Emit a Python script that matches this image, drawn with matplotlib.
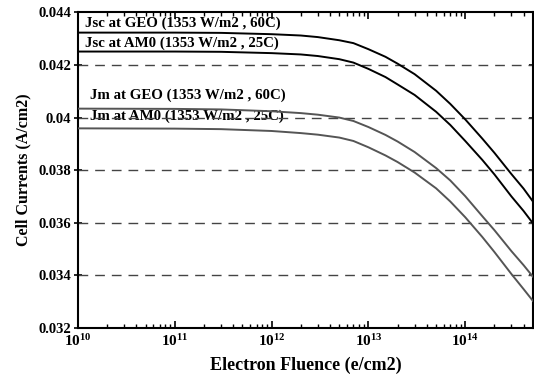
import math
import matplotlib
matplotlib.use("Agg")
import matplotlib.pyplot as plt
from matplotlib.ticker import FixedLocator, LogLocator, NullFormatter, FuncFormatter

plt.rcParams['font.family'] = ['Liberation Serif', 'DejaVu Serif']
plt.rcParams['font.weight'] = 'bold'
plt.rcParams['mathtext.fontset'] = 'custom'
plt.rcParams['mathtext.rm'] = 'Liberation Serif:bold'
plt.rcParams['mathtext.it'] = 'Liberation Serif:bold'
plt.rcParams['mathtext.bf'] = 'Liberation Serif:bold'

# Data
fluence = [1e10, 1e11, 3e11, 1e12, 2e12, 3e12, 5e12, 7e12, 1e13, 1.5e13, 2e13,
           3e13, 5e13, 7e13, 1e14, 1.5e14, 2e14, 3e14, 4e14, 5e14]
jsc_geo = [0.04323, 0.04323, 0.04322, 0.04317, 0.04312, 0.04306, 0.04294, 0.04283,
           0.04260, 0.04231, 0.04205, 0.04165, 0.04102, 0.04052, 0.03993, 0.03920,
           0.03866, 0.03785, 0.03730, 0.03681]
jsc_am0 = [0.04251, 0.04251, 0.04250, 0.04245, 0.04240, 0.04234, 0.04222, 0.04209,
           0.04185, 0.04154, 0.04126, 0.04086, 0.04022, 0.03972, 0.03911, 0.03839,
           0.03784, 0.03700, 0.03645, 0.03598]
jm_geo = [0.04034, 0.04033, 0.04031, 0.04024, 0.04017, 0.04011, 0.04000, 0.03987,
          0.03964, 0.03934, 0.03909, 0.03869, 0.03808, 0.03761, 0.03701, 0.03625,
          0.03572, 0.03492, 0.03439, 0.03395]
jm_am0 = [0.03959, 0.03958, 0.03956, 0.03949, 0.03941, 0.03935, 0.03924, 0.03911,
          0.03887, 0.03856, 0.03831, 0.03791, 0.03731, 0.03681, 0.03621, 0.03546,
          0.03489, 0.03405, 0.03348, 0.03303]

series_labels = ["Jsc at GEO (1353 W/m2 , 60C)", "Jsc at AM0 (1353 W/m2 , 25C)",
                 "Jm at GEO (1353 W/m2 , 60C)", "Jm at AM0 (1353 W/m2 , 25C)"]
y_ticks = [0.032, 0.034, 0.036, 0.038, 0.04, 0.042, 0.044]
y_tick_labels = ["0.032", "0.034", "0.036", "0.038", "0.04", "0.042", "0.044"]
x_ticks = [1e10, 1e11, 1e12, 1e13, 1e14]

fig = plt.figure(figsize=(5.34, 3.78), dpi=100)
ax = fig.add_axes([0.146, 0.1323, 0.852, 0.835])

ax.set_xscale('log')
ax.set_xlim(1e10, 5e14)
ax.set_ylim(0.032, 0.044)

# dashed horizontal grid at interior ticks
for yv in y_ticks[1:-1]:
    ax.axhline(yv, color='#444444', lw=1.0, dashes=(7, 5), zorder=2)

ax.plot(fluence, jsc_geo, color='black', lw=1.4, zorder=4)
ax.plot(fluence, jsc_am0, color='black', lw=1.4, zorder=4)
ax.plot(fluence, jm_geo, color='#555555', lw=1.4, zorder=4)
ax.plot(fluence, jm_am0, color='#555555', lw=1.4, zorder=4)

label_pos = [(1.19e10, 0.04359), (1.19e10, 0.04283), (1.32e10, 0.04086), (1.32e10, 0.04006)]
for (lx, ly), s in zip(label_pos, series_labels):
    ax.text(lx, ly, s, fontsize=10.7, fontweight='bold', ha='left', va='center', zorder=1)

ax.yaxis.set_major_locator(FixedLocator(y_ticks))
ax.set_yticklabels(y_tick_labels)
ax.xaxis.set_major_locator(FixedLocator(x_ticks))
ax.xaxis.set_major_formatter(FuncFormatter(lambda v, p: r'$10^{%d}$' % round(math.log10(v))))
ax.xaxis.set_minor_locator(LogLocator(base=10, subs=range(2, 10), numticks=20))
ax.xaxis.set_minor_formatter(NullFormatter())

ax.tick_params(axis='x', which='major', direction='in', length=5, width=1.2, top=True,
               labelsize=11, pad=4)
ax.tick_params(axis='x', which='minor', direction='in', length=3, width=1.0, top=True)
ax.tick_params(axis='y', which='major', direction='inout', length=6, width=1.2, right=True,
               labelsize=10.5, pad=2)
for lab in ax.get_yticklabels():
    lab.set_fontweight('bold')

for sp in ax.spines.values():
    sp.set_linewidth(1.5)

ax.set_xlabel("Electron Fluence (e/cm2)", fontsize=13, fontweight='bold', labelpad=5)
ax.set_ylabel("Cell Currents (A/cm2)", fontsize=11.5, fontweight='bold', labelpad=5)

fig.savefig("out.png", dpi=100)
